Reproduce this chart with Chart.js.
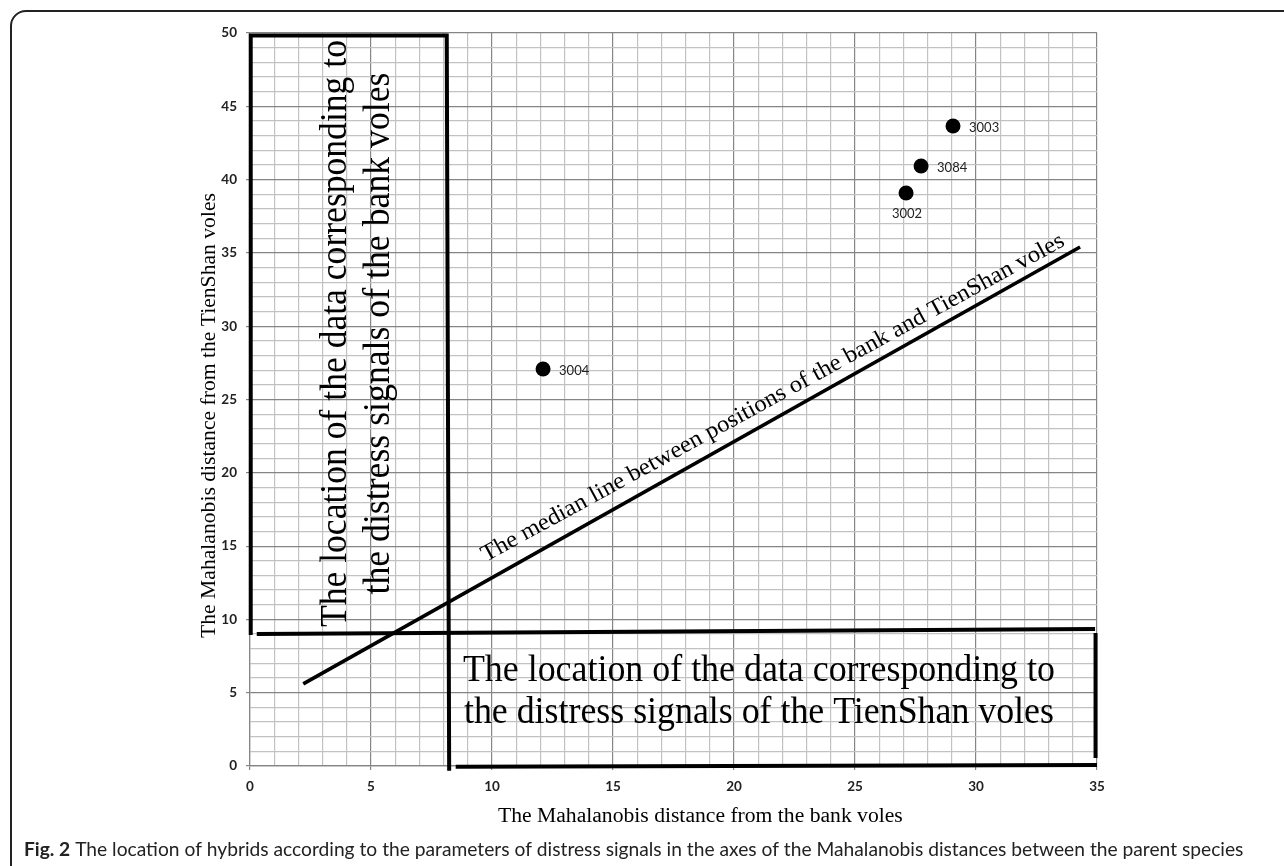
<!DOCTYPE html>
<html>
<head>
<meta charset="utf-8">
<script src="https://cdn.jsdelivr.net/npm/chart.js@4.4.1/dist/chart.umd.min.js"></script>
<style>
html, body { margin: 0; padding: 0; background: #fff; width: 1284px; height: 866px; overflow: hidden; }
#frame { position: absolute; left: 10px; top: 10px; width: 1320px; height: 920px; border: 2px solid #222; border-top-left-radius: 16px; box-sizing: border-box; }
#c { position: absolute; left: 0; top: 0; }
</style>
</head>
<body>
<div id="frame"></div>
<canvas id="c" width="1284" height="866"></canvas>
<script>
// ---- data ----
const hybridIds = ['3003', '3084', '3002', '3004'];
const bankDistance = [29.05, 27.73, 27.11, 12.11];
const tienShanDistance = [43.66, 40.93, 39.09, 27.08];

const xTickLabels = [0, 5, 10, 15, 20, 25, 30, 35];
const yTickLabels = [0, 5, 10, 15, 20, 25, 30, 35, 40, 45, 50];

const medianLineX = [2.2, 34.3];
const medianLineY = [5.6, 35.4];

const bankRegionX = [0.03, 0.03, 8.13, 8.23];
const bankRegionY = [8.94, 49.83, 49.83, -0.32];

const thresholdX = [0.28, 34.92];
const thresholdY = [9.0, 9.35];

const tienShanRightX = [34.94, 34.94];
const tienShanRightY = [9.07, 0.55];

const tienShanBottomX = [8.5, 35.0];
const tienShanBottomY = [-0.05, 0.07];

const xTitle = 'The Mahalanobis distance from the bank voles';
const yTitle = 'The Mahalanobis distance from the TienShan voles';
const bankText = ['The location of the data corresponding to', 'the distress signals of the bank voles'];
const tienShanText = ['The location of the data corresponding to', 'the distress signals of the TienShan voles'];
const medianText = 'The median line between positions of the bank and TienShan voles';
const captionBold = 'Fig. 2';
const captionRest = ' The location of hybrids according to the parameters of distress signals in the axes of the Mahalanobis distances between the parent species';

// ---- helpers ----
const pts = (xs, ys) => xs.map((v, i) => ({ x: v, y: ys[i] }));
const SERIF = '"Liberation Serif", "Times New Roman", serif';
const SANS = 'Lato, "Open Sans", sans-serif';

const lineDs = (xs, ys, w) => ({
  type: 'scatter', data: pts(xs, ys), showLine: true, pointRadius: 0, pointHoverRadius: 0,
  borderColor: '#000', borderWidth: w, backgroundColor: '#000', clip: false, tension: 0,
  borderJoinStyle: 'miter', order: 2
});

const isMajorX = v => xTickLabels.includes(v);
const isMajorY = v => yTickLabels.includes(v);
const MAJOR = '#858585', MINOR = '#c2c2c2';

// draws text of a given font size, squeezed along its direction to a target length
function squeezedText(ctx, text, size, target, align) {
  ctx.font = `${size}px ${SERIF}`;
  const sx = target / ctx.measureText(text).width;
  ctx.save();
  ctx.scale(sx, 1);
  ctx.textAlign = align;
  ctx.fillText(text, 0, 0);
  ctx.restore();
  return sx;
}

const annotations = {
  id: 'annotations',
  afterDatasetsDraw(chart) {
    const { ctx, scales: { x, y } } = chart;
    const X = v => x.getPixelForValue(v), Y = v => y.getPixelForValue(v);
    ctx.save();
    ctx.fillStyle = '#000';
    ctx.textBaseline = 'alphabetic';

    // vertical region text (bank voles)
    const bankBase = [3.97, 5.74];
    const bankLen = [587, 522];
    bankText.forEach((t, i) => {
      ctx.save();
      ctx.translate(X(bankBase[i]), Y(29.5));
      ctx.rotate(-Math.PI / 2);
      squeezedText(ctx, t, 37, bankLen[i], 'center');
      ctx.restore();
    });

    // horizontal region text (TienShan voles)
    const tsBase = [5.80, 2.93];
    const tsLen = [592, 590];
    tienShanText.forEach((t, i) => {
      ctx.save();
      ctx.translate(X(21.03), Y(tsBase[i]));
      squeezedText(ctx, t, 37, tsLen[i], 'center');
      ctx.restore();
    });

    // text along the median line
    const sx0 = X(9.75), sy0 = Y(13.92), sx1 = X(33.72), sy1 = Y(35.54);
    const ang = Math.atan2(sy1 - sy0, sx1 - sx0);
    const len = Math.hypot(sx1 - sx0, sy1 - sy0);
    ctx.save();
    ctx.translate(sx0, sy0);
    ctx.rotate(ang);
    squeezedText(ctx, medianText, 23.5, len, 'left');
    ctx.restore();

    // point labels
    ctx.font = `13px ${SANS}`;
    ctx.fillStyle = '#222';
    ctx.textBaseline = 'middle';
    hybridIds.forEach((id, i) => {
      const px = X(bankDistance[i]), py = Y(tienShanDistance[i]);
      if (id === '3002') {
        ctx.textAlign = 'center';
        ctx.fillText(id, px + 1, py + 21);
      } else {
        ctx.textAlign = 'left';
        ctx.fillText(id, px + 16, py + 2);
      }
    });
    ctx.restore();
  },
  afterDraw(chart) {
    const { ctx, chartArea } = chart;
    ctx.save();
    ctx.fillStyle = '#000';
    ctx.textBaseline = 'alphabetic';
    // axis titles
    ctx.font = `100px ${SERIF}`;
    const ts = 100 * 445 / ctx.measureText(yTitle).width;
    ctx.font = `${ts}px ${SERIF}`;
    ctx.textAlign = 'left';
    ctx.fillText(xTitle, 498, chartArea.bottom + 56);
    ctx.save();
    ctx.translate(chartArea.left - 35, 415.5);
    ctx.rotate(-Math.PI / 2);
    ctx.textAlign = 'center';
    ctx.fillText(yTitle, 0, 0);
    ctx.restore();

    // caption
    ctx.fillStyle = '#222';
    ctx.font = `bold 100px ${SANS}`;
    const wb = ctx.measureText(captionBold).width;
    ctx.font = `100px ${SANS}`;
    const wr = ctx.measureText(captionRest).width;
    const cs = 100 * 1220 / (wb + wr);
    ctx.textAlign = 'left';
    ctx.font = `bold ${cs}px ${SANS}`;
    ctx.fillText(captionBold, 24, 856);
    const w1 = ctx.measureText(captionBold).width;
    ctx.font = `${cs}px ${SANS}`;
    ctx.fillText(captionRest, 24 + w1, 856);
    ctx.restore();
  }
};

new Chart(document.getElementById('c'), {
  type: 'scatter',
  data: {
    datasets: [
      {
        label: 'Hybrids', data: pts(bankDistance, tienShanDistance),
        pointRadius: 7.5, pointHoverRadius: 7.5, backgroundColor: '#000', borderWidth: 0, order: 1
      },
      lineDs(medianLineX, medianLineY, 3.6),
      lineDs(bankRegionX, bankRegionY, 4),
      lineDs(thresholdX, thresholdY, 4),
      lineDs(tienShanRightX, tienShanRightY, 4),
      lineDs(tienShanBottomX, tienShanBottomY, 4)
    ]
  },
  options: {
    responsive: false,
    animation: false,
    events: [],
    layout: { padding: { left: 150, top: 33, right: 187, bottom: 40 } },
    plugins: { legend: { display: false }, tooltip: { enabled: false } },
    scales: {
      x: {
        type: 'linear', min: 0, max: 35,
        afterFit: s => { s.height = 60; },
        ticks: {
          stepSize: 1, autoSkip: false, maxRotation: 0, padding: 9, color: '#222',
          font: { family: SANS, size: 13.5, weight: 'bold' },
          callback: v => isMajorX(v) ? String(v) : ''
        },
        grid: {
          color: c => (c.tick && isMajorX(c.tick.value)) ? MAJOR : MINOR,
          lineWidth: 1.2, tickLength: 4,
          tickColor: c => (c.tick && isMajorX(c.tick.value)) ? MAJOR : 'rgba(0,0,0,0)'
        },
        border: { color: MAJOR, width: 1.2 }
      },
      y: {
        type: 'linear', min: 0, max: 50,
        afterFit: s => { s.width = 100; },
        ticks: {
          stepSize: 1, autoSkip: false, padding: 9, color: '#222',
          font: { family: SANS, size: 13.5, weight: 'bold' },
          callback: v => isMajorY(v) ? String(v) : ''
        },
        grid: {
          color: c => (c.tick && isMajorY(c.tick.value)) ? MAJOR : MINOR,
          lineWidth: 1.2, tickLength: 4,
          tickColor: c => (c.tick && isMajorY(c.tick.value)) ? MAJOR : 'rgba(0,0,0,0)'
        },
        border: { color: MAJOR, width: 1.2 }
      }
    }
  },
  plugins: [annotations]
});
</script>
</body>
</html>
